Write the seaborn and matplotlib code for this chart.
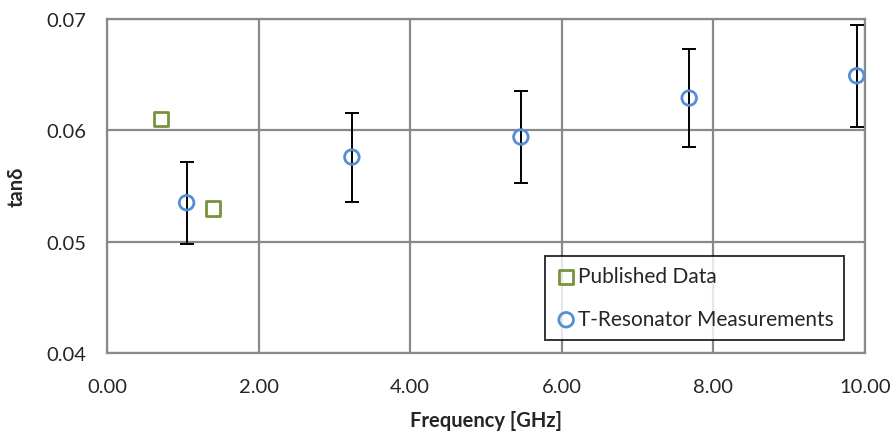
import numpy as np
import pandas as pd
import seaborn as sns
import matplotlib
matplotlib.use("Agg")
import matplotlib.pyplot as plt

# published reference values
pub_freq = [0.71, 1.40]
pub_tand = [0.0610, 0.0530]

# T-resonator measurements with error bars
meas_freq = [1.05, 3.23, 5.46, 7.68, 9.89]
meas_tand = [0.0535, 0.0576, 0.0594, 0.0629, 0.0649]
meas_err = [0.0037, 0.0040, 0.0041, 0.0044, 0.0046]

x_ticks = [0, 2, 4, 6, 8, 10]
y_ticks = [0.04, 0.05, 0.06, 0.07]

sns.set_style("white")
plt.rcParams['font.family'] = ['Lato', 'DejaVu Sans']

grid_col = "#898989"
green = "#77933C"
blue = "#558ED5"

fig = plt.figure(figsize=(8.95, 4.39), dpi=100)
ax = fig.add_axes([0.1196, 0.1936, 0.8469, 0.7608])

pub_df = pd.DataFrame({"freq": pub_freq, "tand": pub_tand})
meas_df = pd.DataFrame({"freq": meas_freq, "tand": meas_tand})

ax.errorbar(meas_df["freq"], meas_df["tand"], yerr=meas_err, fmt="none",
            ecolor="black", elinewidth=1.4, capsize=5, capthick=1.4, zorder=3)
sns.scatterplot(x="freq", y="tand", data=pub_df, ax=ax, marker="s", s=110,
                facecolor="none", edgecolor=green, linewidth=2,
                label="Published Data", zorder=4)
sns.scatterplot(x="freq", y="tand", data=meas_df, ax=ax, marker="o", s=110,
                facecolor="none", edgecolor=blue, linewidth=2,
                label="T-Resonator Measurements", zorder=4)

ax.set_xlim(0, 10)
ax.set_ylim(0.04, 0.07)
ax.set_xticks(x_ticks)
ax.set_xticklabels(["%.2f" % v for v in x_ticks])
ax.set_yticks(y_ticks)
ax.set_yticklabels(["%.2f" % v for v in y_ticks])
ax.grid(True, color=grid_col, linewidth=1.6)
ax.set_axisbelow(True)
for s in ax.spines.values():
    s.set_color(grid_col)
    s.set_linewidth(1.6)
ax.tick_params(axis="both", direction="out", length=6, width=1.6,
               color=grid_col, labelsize=14.5)
ax.tick_params(axis="y", pad=9)
ax.tick_params(axis="x", pad=12)

ax.set_xlabel("Frequency [GHz]", fontsize=14.5, fontweight="bold", labelpad=11)
ax.set_ylabel("tanδ", fontsize=14.5, fontweight="bold", labelpad=14)

leg = ax.legend(loc="lower right", bbox_to_anchor=(0.972, 0.04), fontsize=15,
                frameon=True, fancybox=False, edgecolor="black",
                handletextpad=0.05, borderpad=0.5, labelspacing=1.1,
                handlelength=1.0, borderaxespad=0)
leg.get_frame().set_linewidth(1.4)

plt.savefig("out.png", dpi=100)
